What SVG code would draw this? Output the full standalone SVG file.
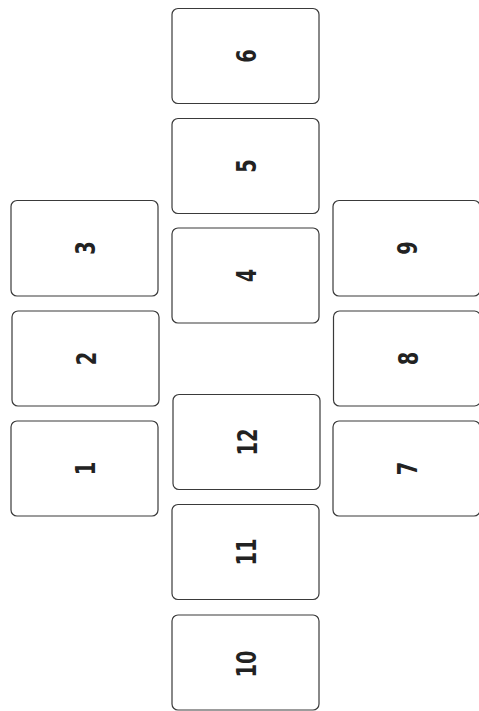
<svg xmlns="http://www.w3.org/2000/svg" width="479" height="711" viewBox="0 0 479 711">
<style>
.box{fill:#fff;stroke:#3a3a3a;stroke-width:1.2}
.lbl{font-family:"DejaVu Sans",sans-serif;font-weight:bold;font-size:27px;fill:#222;text-anchor:middle}
</style>
<rect width="479" height="711" fill="#fff"/>
<g id="connectors"/>
<g id="n1"><rect class="box" x="11" y="421" width="147" height="95" rx="6"/><text class="lbl" y="10" transform="translate(85.2,468.4) rotate(-90) scale(0.72,1)">1</text></g>
<g id="n2"><rect class="box" x="12" y="311" width="147" height="95" rx="6"/><text class="lbl" y="10" transform="translate(86.2,358.5) rotate(-90) scale(0.72,1)">2</text></g>
<g id="n3"><rect class="box" x="11" y="200.5" width="147" height="95.5" rx="6"/><text class="lbl" y="10" transform="translate(85.2,248) rotate(-90) scale(0.72,1)">3</text></g>
<g id="n4"><rect class="box" x="172" y="228" width="147" height="95" rx="6"/><text class="lbl" y="10" transform="translate(246.2,275.5) rotate(-90) scale(0.72,1)">4</text></g>
<g id="n5"><rect class="box" x="172" y="118.5" width="147" height="95" rx="6"/><text class="lbl" y="10" transform="translate(246.2,166) rotate(-90) scale(0.72,1)">5</text></g>
<g id="n6"><rect class="box" x="172" y="8.5" width="147" height="95" rx="6"/><text class="lbl" y="10" transform="translate(246.2,56) rotate(-90) scale(0.72,1)">6</text></g>
<g id="n7"><rect class="box" x="333" y="421" width="147" height="95" rx="6"/><text class="lbl" y="10" transform="translate(407.2,468.5) rotate(-90) scale(0.72,1)">7</text></g>
<g id="n8"><rect class="box" x="333.5" y="311" width="147" height="95" rx="6"/><text class="lbl" y="10" transform="translate(407.7,358.5) rotate(-90) scale(0.72,1)">8</text></g>
<g id="n9"><rect class="box" x="333" y="200.5" width="147" height="95.5" rx="6"/><text class="lbl" y="10" transform="translate(407.2,248) rotate(-90) scale(0.72,1)">9</text></g>
<g id="n10"><rect class="box" x="172" y="615" width="147" height="95" rx="6"/><text class="lbl" y="10" transform="translate(246,664) rotate(-90) scale(0.72,1)">10</text></g>
<g id="n11"><rect class="box" x="172" y="504.5" width="147" height="95" rx="6"/><text class="lbl" y="10" transform="translate(246.2,552) rotate(-90) scale(0.72,1)">11</text></g>
<g id="n12"><rect class="box" x="173" y="394.5" width="147" height="95" rx="6"/><text class="lbl" y="10" transform="translate(247.2,442) rotate(-90) scale(0.72,1)">12</text></g>
</svg>
